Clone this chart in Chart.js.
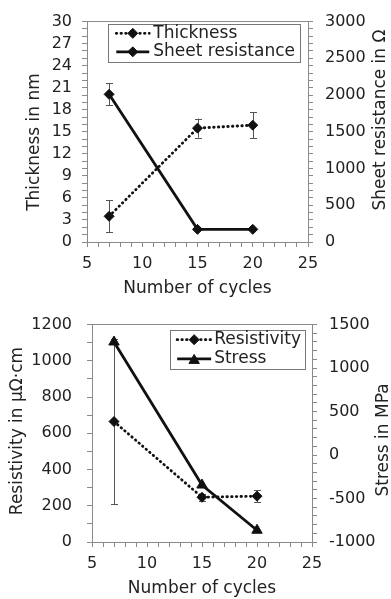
<!DOCTYPE html>
<html><head><meta charset="utf-8">
<script src="https://cdn.jsdelivr.net/npm/chart.js@4/dist/chart.umd.min.js"></script>
<style>
html,body{margin:0;padding:0;background:#fff;width:391px;height:599px;overflow:hidden}
canvas{position:absolute;left:0;display:block}
</style></head><body>
<canvas id="c1" width="391" height="300" style="top:0"></canvas>
<canvas id="c2" width="391" height="299" style="top:300px"></canvas>
<script>
// ---- data ----
const cycles = [7, 15, 20];
const thickness = [3.5, 15.5, 15.9];
const thicknessErr = [2.2, 1.3, 1.8];
const sheetResistance = [2010, 172, 172];
const sheetResistanceErr = [150, 0, 0];
const resistivity = [665, 247, 253];
const resistivityErr = [455, 20, 32];
const stress = [1300, -345, -865];

const xTickLabels = [5, 10, 15, 20, 25];
const thicknessTickLabels = [0, 3, 6, 9, 12, 15, 18, 21, 24, 27, 30];
const sheetTickLabels = [0, 500, 1000, 1500, 2000, 2500, 3000];
const resistivityTickLabels = [0, 200, 400, 600, 800, 1000, 1200];
const stressTickLabels = [-1000, -500, 0, 500, 1000, 1500];

const xTitle = 'Number of cycles';
const thicknessTitle = 'Thickness in nm';
const sheetTitle = 'Sheet resistance in Ω';
const resistivityTitle = 'Resistivity in μΩ·cm';
const stressTitle = 'Stress in MPa';

// ---- style ----
const FONT = "'DejaVu Sans', Verdana, sans-serif";
const TEXT = '#222';
const AXIS = '#8a8a8a';
const DOT = [0.5, 4.2];

function pts(ys) { return cycles.map((c, i) => ({x: c, y: ys[i]})); }

function xScale(h, pad, tpad) {
  return {
    type: 'linear', position: 'bottom', min: 5, max: 25,
    afterFit: s => { s.height = h; },
    ticks: {stepSize: 1, autoSkip: false, maxRotation: 0, padding: pad,
      font: {family: FONT, size: 16}, color: TEXT,
      callback: v => xTickLabels.includes(v) ? String(v) : ''},
    grid: {drawOnChartArea: false, drawTicks: true, tickLength: 5, color: AXIS},
    border: {color: AXIS, width: 1},
    title: {display: true, text: xTitle, font: {family: FONT, size: 17}, color: TEXT,
      padding: {top: 0, bottom: tpad}}
  };
}
function topScale() {
  return {
    type: 'linear', position: 'top', min: 5, max: 25,
    afterFit: s => { s.height = 0; },
    ticks: {display: false},
    grid: {drawOnChartArea: false, drawTicks: false},
    border: {color: AXIS, width: 1}
  };
}
function yScale(pos, min, max, step, labels, w, pad) {
  return {
    type: 'linear', position: pos, min: min, max: max,
    afterFit: s => { s.width = w; },
    ticks: {stepSize: step, autoSkip: false, padding: pad,
      font: {family: FONT, size: 16}, color: TEXT,
      callback: v => labels.includes(v) ? String(v) : ''},
    grid: {drawOnChartArea: false, drawTicks: true, tickLength: 5, color: AXIS},
    border: {color: AXIS, width: 1}
  };
}

// error bars drawn through scales
const errorBarPlugin = {
  id: 'errorBars',
  beforeDatasetsDraw(chart) {
    const ctx = chart.ctx, xs = chart.scales.x, a = chart.chartArea;
    ctx.save();
    ctx.strokeStyle = '#555'; ctx.lineWidth = 1;
    chart.data.datasets.forEach(ds => {
      if (!ds.errors) return;
      const ys = chart.scales[ds.yAxisID];
      ds.data.forEach((p, j) => {
        const e = ds.errors[j]; if (!e) return;
        const x = Math.round(xs.getPixelForValue(p.x)) + 0.5;
        const y1 = Math.max(a.top, ys.getPixelForValue(p.y + e));
        const y2 = Math.min(a.bottom, ys.getPixelForValue(p.y - e));
        ctx.beginPath();
        ctx.moveTo(x, y1); ctx.lineTo(x, y2);
        ctx.moveTo(x - 3.5, Math.round(y1) + 0.5); ctx.lineTo(x + 3.5, Math.round(y1) + 0.5);
        ctx.moveTo(x - 3.5, Math.round(y2) + 0.5); ctx.lineTo(x + 3.5, Math.round(y2) + 0.5);
        ctx.stroke();
      });
    });
    ctx.restore();
  }
};

function marker(ctx, style, x, y, r) {
  ctx.beginPath();
  if (style === 'triangle') {
    for (let k = 0; k < 3; k++) {
      const a = k * 2 * Math.PI / 3;
      const px = x + Math.sin(a) * r, py = y - Math.cos(a) * r;
      k ? ctx.lineTo(px, py) : ctx.moveTo(px, py);
    }
  } else {
    ctx.moveTo(x, y - r); ctx.lineTo(x + r, y); ctx.lineTo(x, y + r); ctx.lineTo(x - r, y);
  }
  ctx.closePath(); ctx.fill(); ctx.stroke();
}

const legendPlugin = {
  id: 'boxLegend',
  afterDraw(chart, args, o) {
    const ctx = chart.ctx, a = chart.chartArea;
    ctx.save();
    ctx.font = '17px ' + FONT;
    const dss = chart.data.datasets;
    const tw = Math.max(...dss.map(d => ctx.measureText(d.label).width));
    const w = o.padL + o.sample + o.gap + tw + o.padR;
    const h = o.padV * 2 + o.rowH * dss.length;
    const right = a.right - o.insetR, top = a.top + o.insetT, left = right - w;
    ctx.fillStyle = '#fff'; ctx.fillRect(left, top, w, h);
    ctx.strokeStyle = '#777'; ctx.lineWidth = 1;
    ctx.strokeRect(Math.round(left) + 0.5, Math.round(top) + 0.5, Math.round(w), Math.round(h));
    dss.forEach((d, i) => {
      const cy = top + o.padV + o.rowH * (i + 0.5);
      const x0 = left + o.padL, x1 = x0 + o.sample;
      ctx.save();
      ctx.strokeStyle = d.borderColor; ctx.lineWidth = d.borderWidth;
      ctx.lineCap = d.borderCapStyle || 'butt';
      ctx.setLineDash(d.borderDash || []);
      ctx.beginPath(); ctx.moveTo(x0, cy); ctx.lineTo(x1, cy); ctx.stroke();
      ctx.restore();
      ctx.fillStyle = d.pointBackgroundColor; ctx.strokeStyle = d.pointBorderColor; ctx.lineWidth = 1;
      marker(ctx, d.pointStyle, (x0 + x1) / 2, cy + (d.pointStyle === 'triangle' ? 1.5 : 0), d.pointRadius);
      ctx.fillStyle = TEXT; ctx.textBaseline = 'middle'; ctx.textAlign = 'left';
      ctx.fillText(d.label, x1 + o.gap, cy);
    });
    ctx.restore();
  }
};

const vTitlePlugin = {
  id: 'vTitles',
  afterDraw(chart, args, o) {
    const ctx = chart.ctx;
    ctx.save();
    ctx.font = '17px ' + FONT; ctx.fillStyle = TEXT;
    ctx.textAlign = 'center'; ctx.textBaseline = 'middle';
    o.items.forEach(t => {
      ctx.save(); ctx.translate(t.x, t.y); ctx.rotate(-Math.PI / 2);
      ctx.fillText(t.text, 0, 0); ctx.restore();
    });
    ctx.restore();
  }
};

function lineDs(label, ys, errs, axis, dotted, style, r) {
  return {
    label: label, data: pts(ys), errors: errs, yAxisID: axis, xAxisID: 'x',
    borderColor: '#111', borderWidth: dotted ? 2.8 : 2.8,
    borderDash: dotted ? DOT : [], borderCapStyle: dotted ? 'round' : 'butt',
    pointStyle: style, pointRadius: r, pointHoverRadius: r,
    pointBackgroundColor: '#111', pointBorderColor: '#111', pointBorderWidth: 1,
    tension: 0, fill: false
  };
}

Chart.defaults.font.family = FONT;

new Chart(document.getElementById('c1'), {
  type: 'line',
  data: {datasets: [
    lineDs('Thickness', thickness, thicknessErr, 'y', true, 'rectRot', 5),
    lineDs('Sheet resistance', sheetResistance, sheetResistanceErr, 'y1', false, 'rectRot', 5)
  ]},
  options: {
    responsive: false, animation: false, devicePixelRatio: 1,
    layout: {padding: {top: 20, left: 0, right: 0, bottom: 0}},
    scales: {
      x: xScale(58, 7, 1),
      xt: topScale(),
      y: yScale('left', 0, 30, 1, thicknessTickLabels, 87, 10),
      y1: yScale('right', 0, 3000, 100, sheetTickLabels, 83, 12)
    },
    plugins: {
      legend: {display: false}, tooltip: {enabled: false},
      boxLegend: {insetR: 8, insetT: 2, padL: 8, sample: 33, gap: 4, padR: 5, padV: 0.5, rowH: 18.5},
      vTitles: {items: [{text: thicknessTitle, x: 35, y: 142}, {text: sheetTitle, x: 381, y: 120}]}
    }
  },
  plugins: [errorBarPlugin, legendPlugin, vTitlePlugin]
});

new Chart(document.getElementById('c2'), {
  type: 'line',
  data: {datasets: [
    lineDs('Resistivity', resistivity, resistivityErr, 'y', true, 'rectRot', 5),
    lineDs('Stress', stress, null, 'y1', false, 'triangle', 6)
  ]},
  options: {
    responsive: false, animation: false, devicePixelRatio: 1,
    layout: {padding: {top: 20, left: 0, right: 0, bottom: 0}},
    scales: {
      x: xScale(57, 7, 0),
      xt: topScale(),
      y: yScale('left', 0, 1200, 100, resistivityTickLabels, 92, 15),
      y1: yScale('right', -1000, 1500, 100, stressTickLabels, 79, 12)
    },
    plugins: {
      legend: {display: false}, tooltip: {enabled: false},
      boxLegend: {insetR: 7, insetT: 5, padL: 7, sample: 34, gap: 3, padR: 4, padV: 0.5, rowH: 19.2},
      vTitles: {items: [{text: resistivityTitle, x: 18, y: 131}, {text: stressTitle, x: 384, y: 140}]}
    }
  },
  plugins: [errorBarPlugin, legendPlugin, vTitlePlugin]
});
</script>
</body></html>
